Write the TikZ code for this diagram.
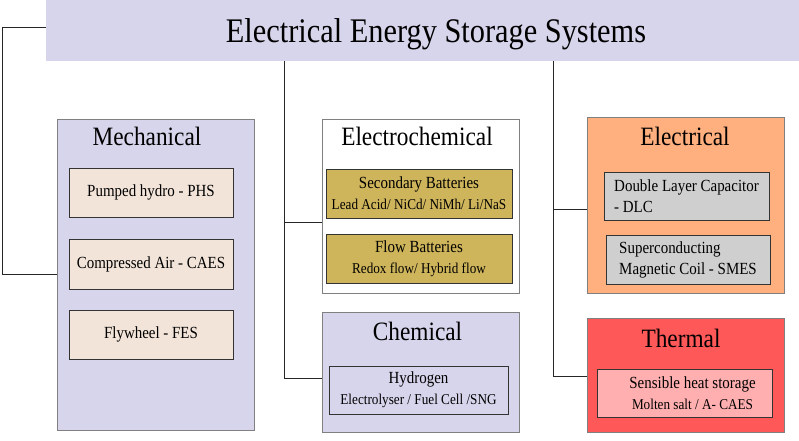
\documentclass[tikz,border=0pt]{standalone}
\usepackage{fontspec}
\setmainfont[FakeStretch=0.88]{Liberation Serif}
\definecolor{lav}{HTML}{D7D5EC}
\definecolor{peach}{HTML}{F3E4D9}
\definecolor{gold}{HTML}{CEB45A}
\definecolor{orng}{HTML}{FFB07E}
\definecolor{lgray}{HTML}{CFCFCF}
\definecolor{hotred}{HTML}{FF5858}
\definecolor{rose}{HTML}{FFAFAF}
\newcommand{\smalltxt}{\fontsize{15}{21}\selectfont}
\begin{document}
\begin{tikzpicture}[x=1pt,y=-1pt,
    group/.style={draw=black!50, line width=0.7pt, minimum width=197pt, inner sep=0pt},
    item/.style={draw=black!80, line width=0.8pt, inner sep=0pt, align=center,
                 font=\fontsize{17}{21}\selectfont},
    head/.style={anchor=base, font=\fontsize{26.5}{30}\selectfont},
    conn/.style={draw=black!85, line width=0.8pt}]
    \useasboundingbox (0,0) rectangle (799,440);

    \node[fill=lav, inner sep=0pt, minimum width=753pt, minimum height=61pt] (title) at (422.5,30.5) {};
    \node[anchor=base, font=\fontsize{34.5}{38}\selectfont] (titletext) at (436,42) {Electrical Energy Storage Systems};

    \node[group, fill=lav, minimum height=311pt] (mech) at (155.5,274.5) {};
    \node[head] (mechhead) at (147,145) {Mechanical};
    \node[item, fill=peach, minimum width=164pt, minimum height=49pt] (phs) at (151,192.5) {Pumped hydro - PHS};
    \node[item, fill=peach, minimum width=164pt, minimum height=50pt] (caes) at (151,264) {Compressed Air - CAES};
    \node[item, fill=peach, minimum width=164pt, minimum height=49pt] (fes) at (151,334.5) {Flywheel - FES};

    \node[group, fill=white, minimum height=174pt] (echem) at (420.5,206) {};
    \node[head] (echemhead) at (417,145) {Electrochemical};
    \node[item, fill=gold, minimum width=186pt, minimum height=49pt] (secbat) at (419,193.5)
        {Secondary Batteries\\ {\smalltxt Lead Acid/ NiCd/ NiMh/ Li/NaS}};
    \node[item, fill=gold, minimum width=186pt, minimum height=49pt] (flowbat) at (419,258.5)
        {Flow Batteries\\ {\smalltxt Redox flow/ Hybrid flow}};

    \node[group, fill=lav, minimum height=120pt] (chem) at (420.5,372) {};
    \node[head] (chemhead) at (417.5,340) {Chemical};
    \node[item, fill=lav, minimum width=179pt, minimum height=48pt] (hydro) at (418.5,390)
        {Hydrogen\\ {\smalltxt Electrolyser / Fuel Cell /SNG}};

    \node[group, fill=orng, minimum height=176pt] (elec) at (685.5,205) {};
    \node[head] (elechead) at (685,145) {Electrical};
    \node[item, fill=lgray, align=left, minimum width=165pt, minimum height=48pt] (dlc) at (686.5,196)
        {Double Layer Capacitor\\- DLC};
    \node[item, fill=lgray, align=left, minimum width=164pt, minimum height=49pt] (smes) at (688,259.5)
        {Superconducting\\Magnetic Coil - SMES};

    \node[group, fill=hotred, minimum height=114pt] (therm) at (685.5,375) {};
    \node[head] (thermhead) at (681,347) {Thermal};
    \node[item, fill=rose, minimum width=175pt, minimum height=48pt] (sensible) at (684.5,393)
        {\hspace*{16pt}Sensible heat storage\\ {\smalltxt\hspace*{16pt}Molten salt / A- CAES}};

    \coordinate (midtop) at (284,61);
    \coordinate (righttop) at (553.5,61);
    \draw[conn] ([yshift=3.5pt]title.west) -- ++(-43,0) |- (mech.west);
    \draw[conn] (midtop) |- (chem.west |- 0,378);
    \draw[conn] (midtop |- 0,222) -- (echem.west |- 0,222);
    \draw[conn] (righttop) |- (therm.west |- 0,376);
    \draw[conn] (righttop |- 0,209) -- (elec.west |- 0,209);
\end{tikzpicture}
\end{document}
